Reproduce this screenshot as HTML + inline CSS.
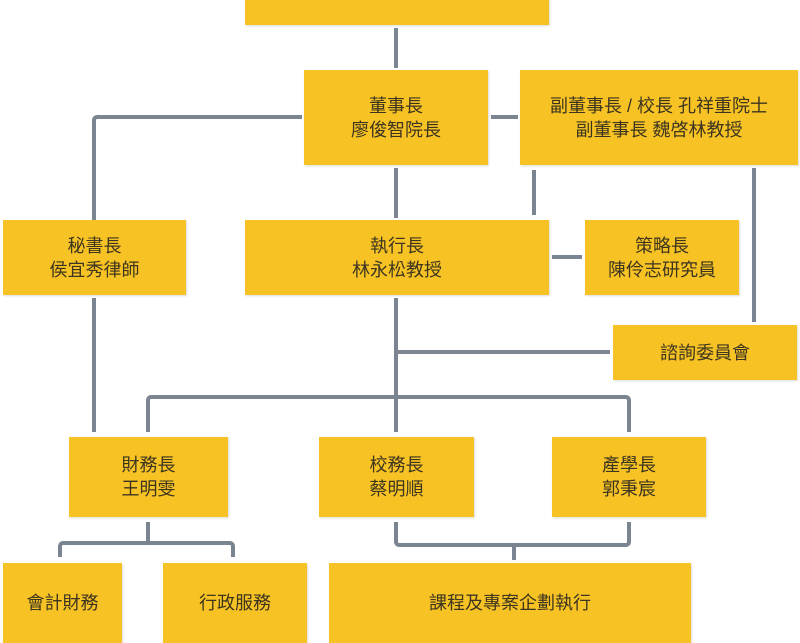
<!DOCTYPE html>
<html><head><meta charset="utf-8"><style>
html,body{margin:0;padding:0;background:#fff;}
body{width:800px;height:600px;position:relative;overflow:hidden;font-family:"Liberation Sans","Noto Sans CJK TC",sans-serif;}
.b{position:absolute;background:#f6c224;color:#3d3520;font-size:18px;line-height:24px;display:flex;align-items:center;justify-content:center;text-align:center;box-shadow:1px 1px 2px rgba(0,0,0,0.15);}
.l{position:absolute;background:#7b8591;}
.r{position:absolute;border:4px solid #7b8591;box-sizing:border-box;}
</style></head><body>
<div class="b" style="left:245px;top:-5px;width:304px;height:30px;"></div>
<div class="b" style="left:304px;top:70px;width:184px;height:95px;">董事長<br>廖俊智院長</div>
<div class="b" style="left:520px;top:70px;width:278px;height:95px;">副董事長 / 校長 孔祥重院士<br>副董事長 魏啓林教授</div>
<div class="b" style="left:3px;top:220px;width:183px;height:75px;">秘書長<br>侯宜秀律師</div>
<div class="b" style="left:245px;top:220px;width:304px;height:75px;">執行長<br>林永松教授</div>
<div class="b" style="left:585px;top:220px;width:154px;height:75px;">策略長<br>陳伶志研究員</div>
<div class="b" style="left:613px;top:325px;width:184px;height:55px;">諮詢委員會</div>
<div class="b" style="left:69px;top:437px;width:159px;height:80px;">財務長<br>王明雯</div>
<div class="b" style="left:319px;top:437px;width:155px;height:80px;">校務長<br>蔡明順</div>
<div class="b" style="left:552px;top:437px;width:154px;height:80px;">產學長<br>郭秉宸</div>
<div class="b" style="left:3px;top:563px;width:119px;height:80px;">會計財務</div>
<div class="b" style="left:163px;top:563px;width:144px;height:80px;">行政服務</div>
<div class="b" style="left:329px;top:563px;width:362px;height:80px;">課程及專案企劃執行</div>

<div class="l" style="left:394px;top:28px;width:4px;height:40px;"></div>
<div class="r" style="left:92px;top:115px;width:210px;height:105px;border-right:none;border-bottom:none;border-top-left-radius:5px;"></div>
<div class="l" style="left:491px;top:115px;width:27px;height:4px;"></div>
<div class="l" style="left:394px;top:168px;width:4px;height:50px;"></div>
<div class="l" style="left:532px;top:170px;width:4px;height:45px;"></div>
<div class="l" style="left:752px;top:168px;width:4px;height:154px;"></div>
<div class="l" style="left:552px;top:255px;width:30px;height:4px;"></div>
<div class="l" style="left:92px;top:298px;width:4px;height:134px;"></div>
<div class="l" style="left:394px;top:298px;width:4px;height:134px;"></div>
<div class="l" style="left:396px;top:350px;width:214px;height:4px;"></div>
<div class="r" style="left:146px;top:395px;width:485px;height:37px;border-bottom:none;border-radius:5px 5px 0 0;"></div>
<div class="l" style="left:146px;top:522px;width:4px;height:22px;"></div>
<div class="r" style="left:58px;top:541px;width:177px;height:16px;border-bottom:none;border-radius:5px 5px 0 0;"></div>
<div class="r" style="left:394px;top:522px;width:237px;height:25px;border-top:none;border-radius:0 0 5px 5px;"></div>
<div class="l" style="left:512px;top:545px;width:4px;height:15px;"></div>
</body></html>
